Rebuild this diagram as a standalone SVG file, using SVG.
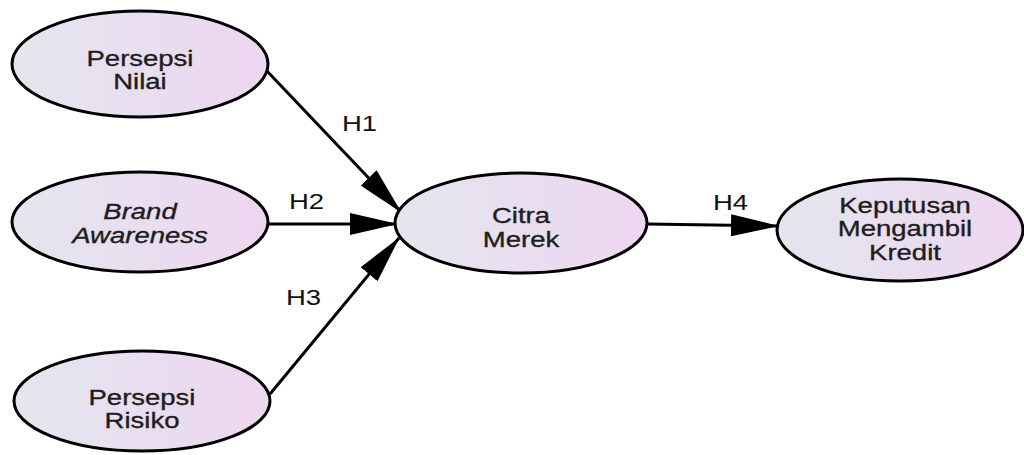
<svg xmlns="http://www.w3.org/2000/svg" width="1024" height="455" viewBox="0 0 1024 455">
<defs>
<linearGradient id="g" x1="0" y1="0" x2="1" y2="0">
<stop offset="0" stop-color="#e3e6ef"/>
<stop offset="1" stop-color="#eed6f0"/>
</linearGradient>
<marker id="ah" viewBox="0 0 48 22" refX="47" refY="11" markerWidth="48" markerHeight="22" markerUnits="userSpaceOnUse" orient="auto">
<path d="M0,0 L48,11 L0,22 Z" fill="#000"/>
</marker>
<style>
.n{fill:url(#g);stroke:#000;stroke-width:3}
.t{font-family:"Liberation Sans",Arial,sans-serif;font-size:22px;fill:#1e1e1e;stroke:#1e1e1e;stroke-width:0.35;text-anchor:middle}
.l{font-family:"Liberation Sans",Arial,sans-serif;font-size:22px;fill:#111}
.c{stroke:#000;stroke-width:3;fill:none;marker-end:url(#ah)}
</style>
</defs>
<rect width="1024" height="455" fill="#fff"/>
<g id="connectors">
<line class="c" x1="266" y1="70" x2="401" y2="212"/>
<line class="c" x1="268" y1="224" x2="397" y2="224"/>
<line class="c" x1="270" y1="394" x2="399" y2="238"/>
<line class="c" x1="647" y1="224" x2="778" y2="226"/>
<text class="l" transform="translate(342,131) scale(1.25,1)">H1</text>
<text class="l" transform="translate(289,209) scale(1.25,1)">H2</text>
<text class="l" transform="translate(286,305) scale(1.25,1)">H3</text>
<text class="l" transform="translate(713,210) scale(1.25,1)">H4</text>
</g>
<g id="persepsi-nilai">
<ellipse class="n" cx="140" cy="64" rx="128" ry="53"/>
<text class="t" transform="translate(140,66) scale(1.25,1)">Persepsi</text>
<text class="t" transform="translate(140,89) scale(1.25,1)">Nilai</text>
</g>
<g id="brand-awareness">
<ellipse class="n" cx="140" cy="222" rx="128" ry="50"/>
<text class="t" transform="translate(140,219) scale(1.25,1)" font-style="italic">Brand</text>
<text class="t" transform="translate(140,243) scale(1.25,1)" font-style="italic">Awareness</text>
</g>
<g id="persepsi-risiko">
<ellipse class="n" cx="142" cy="401" rx="128" ry="50"/>
<text class="t" transform="translate(142,405) scale(1.25,1)">Persepsi</text>
<text class="t" transform="translate(142,428) scale(1.25,1)">Risiko</text>
</g>
<g id="citra-merek">
<ellipse class="n" cx="521" cy="223" rx="126" ry="50"/>
<text class="t" transform="translate(521,223) scale(1.25,1)">Citra</text>
<text class="t" transform="translate(521,247) scale(1.25,1)">Merek</text>
</g>
<g id="keputusan">
<ellipse class="n" cx="900" cy="230" rx="123" ry="51"/>
<text class="t" transform="translate(905,213) scale(1.25,1)">Keputusan</text>
<text class="t" transform="translate(905,236) scale(1.25,1)">Mengambil</text>
<text class="t" transform="translate(905,260) scale(1.25,1)">Kredit</text>
</g>
</svg>
